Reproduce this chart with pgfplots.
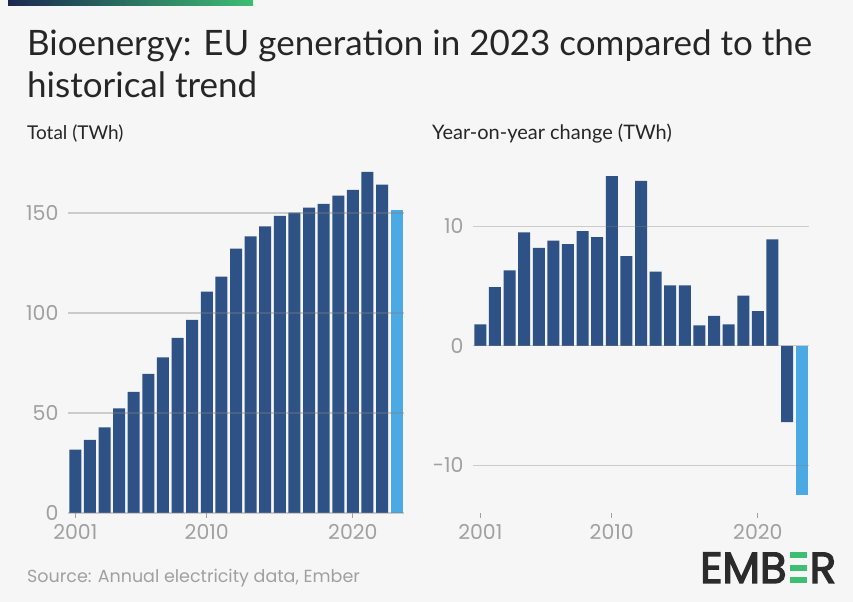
\documentclass[border=0pt]{standalone}
\usepackage{pgfplots}
\pgfplotsset{compat=1.18}
\usepackage{fontspec}
\usetikzlibrary{calc}
\setmainfont{Lato}
\newfontfamily\pop{Poppins}
\newfontfamily\popb{Poppins}[FakeBold=3]

\definecolor{bgc}{HTML}{F6F6F6}
\definecolor{dblue}{HTML}{2E5286}
\definecolor{lblue}{HTML}{4BA9E3}
\definecolor{tickc}{HTML}{A0A0A0}
\definecolor{gridc}{HTML}{808080}
\definecolor{titlec}{HTML}{262626}
\definecolor{navy}{HTML}{1B2850}
\definecolor{egreen}{HTML}{3DBE72}
\definecolor{logoc}{HTML}{2B2B2B}

\pgfplotsset{
  ember/.style={
    scale only axis, width=336bp, height=350bp,
    xmin=2000.5, xmax=2023.5,
    axis line style={draw=none},
    xtick={2001,2010,2020},
    xtick pos=bottom,
    x tick style={draw=tickc, line width=1bp},
    major tick length=5bp, tick align=outside,
    ytick style={draw=none},
    ymajorgrids,
    grid style={gridc, opacity=0.36, line width=1.1bp},
    tick label style={font=\pop\fontsize{20.5bp}{20.5bp}\selectfont, text=tickc},
    xticklabel style={/pgf/number format/1000 sep={}, yshift=-3bp},
    yticklabel style={xshift=-1bp},
    /pgf/number format/assume math mode=true,
    axis on top,
    ybar, bar width=12bp, bar shift=0pt,
    every axis plot/.append style={draw=none},
  }
}

\pgfplotstableread{
year total
2001 31.7
2002 36.5
2003 42.8
2004 52.3
2005 60.5
2006 69.5
2007 77.8
2008 87.5
2009 96.5
2010 110.7
2011 118.2
2012 132.2
2013 138.3
2014 143.3
2015 148.5
2016 150.2
2017 152.7
2018 154.5
2019 158.7
2020 161.5
2021 170.5
2022 164.2
}\totals

\pgfplotstableread{
year change
2001 1.8
2002 4.9
2003 6.3
2004 9.5
2005 8.2
2006 8.8
2007 8.5
2008 9.6
2009 9.1
2010 14.2
2011 7.5
2012 13.8
2013 6.2
2014 5.05
2015 5.05
2016 1.7
2017 2.5
2018 1.8
2019 4.2
2020 2.9
2021 8.9
2022 -6.4
}\changes

\begin{document}
\begin{tikzpicture}[x=1bp,y=1bp]
\fill[bgc] (0,0) rectangle (853,602);
\shade[left color=navy, right color=egreen] (8,596) rectangle (253,602);

\node[anchor=base west, inner sep=0, text=titlec, font=\fontsize{35bp}{40bp}\selectfont] at (27,546) {Bioenergy: EU generation in 2023 compared to the};
\node[anchor=base west, inner sep=0, text=titlec, font=\fontsize{35bp}{40bp}\selectfont] at (27,504) {historical trend};
\node[anchor=base west, inner sep=0, text=titlec, font=\fontsize{19bp}{21bp}\selectfont] at (27,462) {Total (TWh)};
\node[anchor=base west, inner sep=0, text=titlec, font=\fontsize{20bp}{22bp}\selectfont] at (432,462) {Year-on-year change (TWh)};

\begin{axis}[ember, at={(68bp,89bp)}, anchor=south west,
  ymin=0, ymax=175, ytick={0,50,100,150}]
  \addplot[fill=dblue] table[x=year, y=total] {\totals};
  \addplot[fill=lblue] coordinates {(2023,151.5)};
\end{axis}

\begin{axis}[ember, at={(473bp,89bp)}, anchor=south west,
  ymin=-14, ymax=15.3, ytick={-10,0,10}]
  \addplot[fill=dblue] table[x=year, y=change] {\changes};
  \addplot[fill=lblue] coordinates {(2023,-12.5)};
\end{axis}

\node[anchor=base west, inner sep=0, text=tickc, font=\pop\fontsize{17.5bp}{20bp}\selectfont] at (27,19) {Source: Annual electricity data, Ember};

\node[anchor=base west, inner sep=0, text=logoc, font=\popb\fontsize{43.5bp}{45bp}\selectfont] (e1) at (700,19) {EMB};
\node[anchor=base west, inner sep=0, font=\popb\fontsize{43.5bp}{45bp}\selectfont] (e2) at (e1.base east) {\phantom{E}};
\node[anchor=base west, inner sep=0, text=logoc, font=\popb\fontsize{43.5bp}{45bp}\selectfont] at (e2.base east) {R};
\fill[egreen] ($(e2.south west)+(3,0)$) rectangle ($(e2.south east)+(-3,6)$);
\fill[egreen] ($(e2.south west)!0.5!(e2.north west)+(3,-3)$) rectangle ($(e2.south east)!0.5!(e2.north east)+(-3,3)$);
\fill[egreen] ($(e2.north west)+(3,-6)$) rectangle ($(e2.north east)+(-3,0)$);
\end{tikzpicture}
\end{document}
